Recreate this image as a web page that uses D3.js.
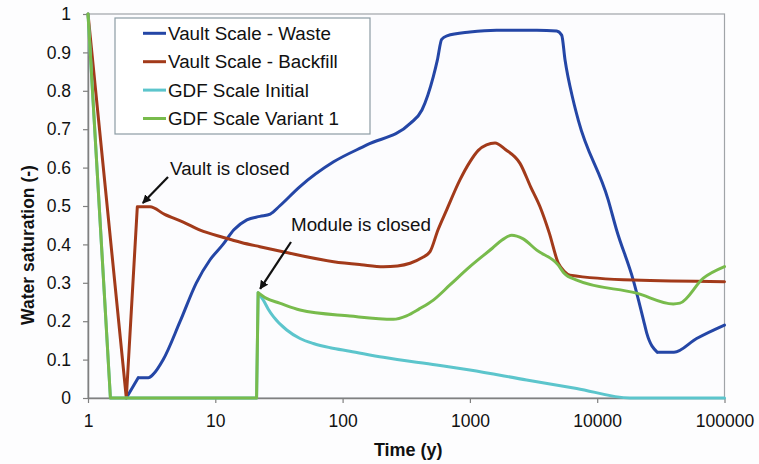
<!DOCTYPE html>
<html>
<head>
<meta charset="utf-8">
<script src="https://cdn.jsdelivr.net/npm/d3@7"></script>
<style>
  html, body { margin: 0; padding: 0; background: #fdfdfe; }
  svg { display: block; font-family: "Liberation Sans", Arial, sans-serif; }
</style>
</head>
<body>
<svg id="chart" width="759" height="464"></svg>
<script>
// ---- data ----
const seriesNames = ["Vault Scale - Waste", "Vault Scale - Backfill", "GDF Scale Initial", "GDF Scale Variant 1"];

const timeWaste = [2, 2.48, 2.98, 3.26, 3.9, 5.3, 7.1, 9.1, 11.5, 14, 17.7, 22.4, 27, 32, 46, 85, 155, 340, 420, 516, 555, 600, 660, 1000, 1620, 3350, 4800, 5260, 5590, 6470, 7110, 12200, 14200, 19200, 23100, 24500, 29700, 40100, 60400, 100000];
const waste     = [0, 0.053, 0.053, 0.062, 0.1, 0.2, 0.3, 0.36, 0.4, 0.438, 0.464, 0.473, 0.479, 0.5, 0.55, 0.615, 0.659, 0.715, 0.75, 0.837, 0.88, 0.934, 0.943, 0.953, 0.958, 0.958, 0.956, 0.945, 0.88, 0.776, 0.723, 0.516, 0.4375, 0.307, 0.203, 0.169, 0.119, 0.119, 0.155, 0.19];

const timeBackfill = [1, 2, 2.44, 3.07, 4, 5.6, 7.6, 11.6, 16, 22.4, 34, 85, 140, 209, 270, 339, 420, 486, 561, 657, 835, 1000, 1164, 1350, 1575, 1900, 2475, 3000, 3555, 4200, 4950, 5500, 6110, 19200, 100000];
const backfill     = [1, 0, 0.498, 0.498, 0.478, 0.458, 0.437, 0.418, 0.405, 0.394, 0.381, 0.355, 0.347, 0.342, 0.344, 0.351, 0.365, 0.381, 0.4375, 0.49, 0.568, 0.615, 0.645, 0.659, 0.664, 0.647, 0.611, 0.55, 0.498, 0.43, 0.351, 0.33, 0.32, 0.307, 0.303];

const timeInitial = [1, 1.5, 21.1, 21.7, 23.8, 26, 28.6, 36.4, 46.3, 58.9, 80, 114, 209, 548, 1000, 2790, 6900, 18100, 100000];
const initial     = [1, 0, 0, 0.274, 0.255, 0.232, 0.212, 0.177, 0.155, 0.142, 0.131, 0.122, 0.106, 0.086, 0.073, 0.047, 0.025, 0, 0];

const timeVariant = [1, 1.5, 21.1, 21.7, 25, 32, 46.3, 114, 250, 318, 400, 516, 700, 1000, 1500, 1800, 2130, 2600, 3350, 4950, 5500, 6900, 20400, 39600, 44700, 68200, 100000];
const variant     = [1, 0, 0, 0.274, 0.26, 0.247, 0.229, 0.2135, 0.205, 0.214, 0.232, 0.255, 0.295, 0.342, 0.39, 0.412, 0.424, 0.415, 0.385, 0.346, 0.325, 0.307, 0.273, 0.245, 0.247, 0.312, 0.342];

const xTicks = [1, 10, 100, 1000, 10000, 100000];
const xTickLabels = ["1", "10", "100", "1000", "10000", "100000"];
const yTicks = [0, 0.1, 0.2, 0.3, 0.4, 0.5, 0.6, 0.7, 0.8, 0.9, 1];
const yTickLabels = ["0", "0.1", "0.2", "0.3", "0.4", "0.5", "0.6", "0.7", "0.8", "0.9", "1"];

const annotations = [
  { text: "Vault is closed", t: 2.6, v: 0.5 },
  { text: "Module is closed", t: 21.7, v: 0.274 }
];

// ---- layout ----
const colors = ["#2446a6", "#a23a1a", "#5cc5cc", "#78bb4c"];
const svg = d3.select("#chart");
const L = 88, R = 724.5, T = 14, B = 398;

const x = d3.scaleLog().domain([1, 100000]).range([L, R]);
const y = d3.scaleLinear().domain([0, 1]).range([B, T]);

svg.append("rect").attr("x", 0).attr("y", 0).attr("width", 759).attr("height", 464).attr("fill", "#fdfdfe");

// frame
svg.append("rect").attr("x", L).attr("y", T).attr("width", R - L).attr("height", B - T)
  .attr("fill", "#fcfcfe").attr("stroke", "#a0a4a8").attr("stroke-width", 1.2);

// axes
const xAxis = d3.axisBottom(x).tickValues(xTicks).tickFormat((d, i) => xTickLabels[i]).tickSize(5).tickSizeOuter(0);
const gx = svg.append("g").attr("transform", `translate(0,${B})`).call(xAxis);
gx.select(".domain").attr("stroke", "#808080").attr("stroke-width", 1.5);
gx.selectAll(".tick line").attr("stroke", "#808080").attr("stroke-width", 1.2);
gx.selectAll(".tick text").attr("font-size", "17.5px").attr("fill", "#111").attr("dy", "1.2em")
  .attr("font-family", "Liberation Sans, Arial, sans-serif");

const yAxis = d3.axisLeft(y).tickValues(yTicks).tickFormat((d, i) => yTickLabels[i]).tickSize(5).tickSizeOuter(0);
const gy = svg.append("g").attr("transform", `translate(${L},0)`).call(yAxis);
gy.select(".domain").attr("stroke", "#808080").attr("stroke-width", 1.5);
gy.selectAll(".tick line").attr("stroke", "#808080").attr("stroke-width", 1.2);
gy.selectAll(".tick text").attr("font-size", "17.5px").attr("fill", "#111").attr("x", -17)
  .attr("font-family", "Liberation Sans, Arial, sans-serif");

// axis titles
svg.append("text").attr("x", (L + R) / 2 + 2).attr("y", 456).attr("text-anchor", "middle")
  .attr("font-size", "18px").attr("font-weight", "bold").attr("fill", "#111").text("Time (y)");
svg.append("text").attr("transform", "translate(34,245) rotate(-90)").attr("text-anchor", "middle")
  .attr("font-size", "17.5px").attr("font-weight", "bold").attr("fill", "#111").text("Water saturation (-)");

// lines: smooth (monotone) pieces, broken at sharp corners
const series = [
  { t: timeWaste, v: waste },
  { t: timeBackfill, v: backfill },
  { t: timeInitial, v: initial },
  { t: timeVariant, v: variant }
];
const smooth = d3.line().x(d => d[0]).y(d => d[1]).curve(d3.curveMonotoneX);
function pieces(px) {
  const out = [];
  let cur = [px[0]];
  for (let i = 1; i < px.length; i++) {
    cur.push(px[i]);
    if (i < px.length - 1) {
      const v1 = [px[i][0] - px[i - 1][0], px[i][1] - px[i - 1][1]];
      const v2 = [px[i + 1][0] - px[i][0], px[i + 1][1] - px[i][1]];
      const c = (v1[0] * v2[0] + v1[1] * v2[1]) / (Math.hypot(...v1) * Math.hypot(...v2));
      const ang = Math.acos(Math.max(-1, Math.min(1, c))) * 180 / Math.PI;
      if (ang > 50) { out.push(cur); cur = [px[i]]; }
    }
  }
  out.push(cur);
  return out;
}
series.forEach((s, i) => {
  const px = s.t.map((t, j) => [x(t), y(s.v[j])]);
  const d = pieces(px).map(p => smooth(p)).join("");
  svg.append("path").attr("d", d).attr("fill", "none")
    .attr("stroke", colors[i]).attr("stroke-width", 3).attr("stroke-linejoin", "round").attr("stroke-linecap", "round");
});

// legend
const lg = svg.append("g");
lg.append("rect").attr("x", 115).attr("y", 18).attr("width", 255).attr("height", 116)
  .attr("fill", "#ffffff").attr("stroke", "#8c9ca4").attr("stroke-width", 1.2);
seriesNames.forEach((n, i) => {
  const yy = 33.3 + i * 28.4;
  lg.append("line").attr("x1", 143).attr("x2", 166).attr("y1", yy).attr("y2", yy)
    .attr("stroke", colors[i]).attr("stroke-width", 3);
  lg.append("text").attr("x", 168).attr("y", yy).attr("dy", "0.35em").attr("font-size", "18.8px")
    .attr("fill", "#111").text(n);
});

// annotations
svg.append("defs").append("marker").attr("id", "arr").attr("viewBox", "0 0 10 10")
  .attr("refX", 9).attr("refY", 5).attr("markerWidth", 4).attr("markerHeight", 4).attr("orient", "auto")
  .append("path").attr("d", "M0,0 L10,5 L0,10 Z").attr("fill", "#111");

const a0 = annotations[0], a1 = annotations[1];
svg.append("text").attr("x", 170).attr("y", 168).attr("dy", "0.35em").attr("font-size", "18.8px").attr("fill", "#111").text(a0.text);
svg.append("line").attr("x1", 168).attr("y1", 177).attr("x2", x(a0.t) + 2).attr("y2", y(a0.v) - 3)
  .attr("stroke", "#111").attr("stroke-width", 2.2).attr("marker-end", "url(#arr)");
svg.append("text").attr("x", 291).attr("y", 224).attr("dy", "0.35em").attr("font-size", "18.8px").attr("fill", "#111").text(a1.text);
svg.append("line").attr("x1", 291).attr("y1", 242).attr("x2", x(a1.t) + 2).attr("y2", y(a1.v) - 4)
  .attr("stroke", "#111").attr("stroke-width", 2.2).attr("marker-end", "url(#arr)");
</script>
</body>
</html>
